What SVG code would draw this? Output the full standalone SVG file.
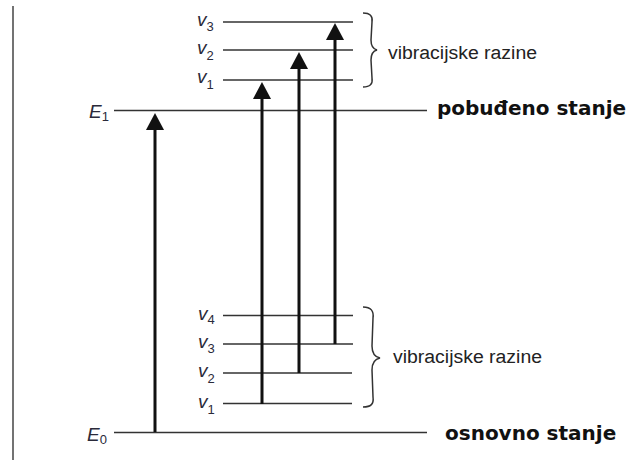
<svg xmlns="http://www.w3.org/2000/svg" width="629" height="460" viewBox="0 0 629 460">
<style>
.lvl{stroke:#333;stroke-width:1.5;fill:none}
.brace{stroke:#333;stroke-width:1.5;fill:none}
.arr{stroke:#111;stroke-width:3;fill:none;marker-end:url(#ah)}
.sym{font-family:"Liberation Sans",Arial,sans-serif;font-style:italic;font-size:19px;fill:#2a2a3a}
.sub{font-family:"Liberation Sans",Arial,sans-serif;font-style:normal;font-size:13px}
.vib{font-family:"Liberation Sans",Arial,sans-serif;font-size:18px;fill:#222}
.state{font-family:"DejaVu Sans",Verdana,sans-serif;font-weight:bold;font-size:20px;fill:#111}
</style>
<defs>
<marker id="ah" markerUnits="userSpaceOnUse" markerWidth="20" markerHeight="20" viewBox="0 -10 18 20" refX="0" refY="0" orient="auto" overflow="visible">
<path d="M0,-9 L17,0 L0,9 Z" fill="#111"/>
</marker>
</defs>
<rect width="629" height="460" fill="#fff"/>
<line x1="13" y1="6" x2="13" y2="460" stroke="#444" stroke-width="1.5"/>

<g id="E1">
<line class="lvl" x1="114" y1="110.5" x2="427" y2="110.5"/>
<text class="sym" x="89" y="118">E<tspan class="sub" dy="3">1</tspan></text>
<text class="state" x="437" y="115">pobuđeno stanje</text>
</g>
<g id="E0">
<line class="lvl" x1="114" y1="432.5" x2="427" y2="432.5"/>
<text class="sym" x="87" y="441">E<tspan class="sub" dy="3">0</tspan></text>
<text class="state" x="445" y="440">osnovno stanje</text>
</g>

<g id="upper-vib">
<line class="lvl" x1="223" y1="22" x2="353" y2="22"/>
<line class="lvl" x1="223" y1="50" x2="353" y2="50"/>
<line class="lvl" x1="223" y1="80" x2="353" y2="80"/>
<text class="sym" x="197" y="26">v<tspan class="sub" dy="5">3</tspan></text>
<text class="sym" x="197" y="54">v<tspan class="sub" dy="6">2</tspan></text>
<text class="sym" x="197" y="83">v<tspan class="sub" dy="6">1</tspan></text>
<path class="brace" d="M363,13 C370,13 373,16 372,22 L371,40 C371,46 373,49 377,50 C373,51 371,54 371,60 L372,78 C373,84 370,87 363,87"/>
<text class="vib" x="388" y="59" textLength="149" lengthAdjust="spacingAndGlyphs">vibracijske razine</text>
</g>

<g id="lower-vib">
<line class="lvl" x1="223" y1="315.5" x2="353" y2="315.5"/>
<line class="lvl" x1="223" y1="344" x2="353" y2="344"/>
<line class="lvl" x1="223" y1="373" x2="352" y2="373"/>
<line class="lvl" x1="223" y1="403.5" x2="352" y2="403.5"/>
<text class="sym" x="198" y="320">v<tspan class="sub" dy="4">4</tspan></text>
<text class="sym" x="198" y="348">v<tspan class="sub" dy="5">3</tspan></text>
<text class="sym" x="198" y="377">v<tspan class="sub" dy="6">2</tspan></text>
<text class="sym" x="198" y="408">v<tspan class="sub" dy="6">1</tspan></text>
<path class="brace" d="M363,307 C371,307 374,311 373,318 L372,346 C372,353 375,357 380,358 C375,359 372,363 372,370 L373,397 C374,404 371,407 363,407"/>
<text class="vib" x="393" y="363" textLength="149" lengthAdjust="spacingAndGlyphs">vibracijske razine</text>
</g>

<g id="connectors">
<line class="arr" x1="155" y1="432" x2="155" y2="130"/>
<line class="arr" x1="262" y1="404" x2="262" y2="99"/>
<line class="arr" x1="299" y1="373" x2="299" y2="69"/>
<line class="arr" x1="335" y1="344" x2="335" y2="40" stroke-width="3.5"/>
</g>
</svg>
